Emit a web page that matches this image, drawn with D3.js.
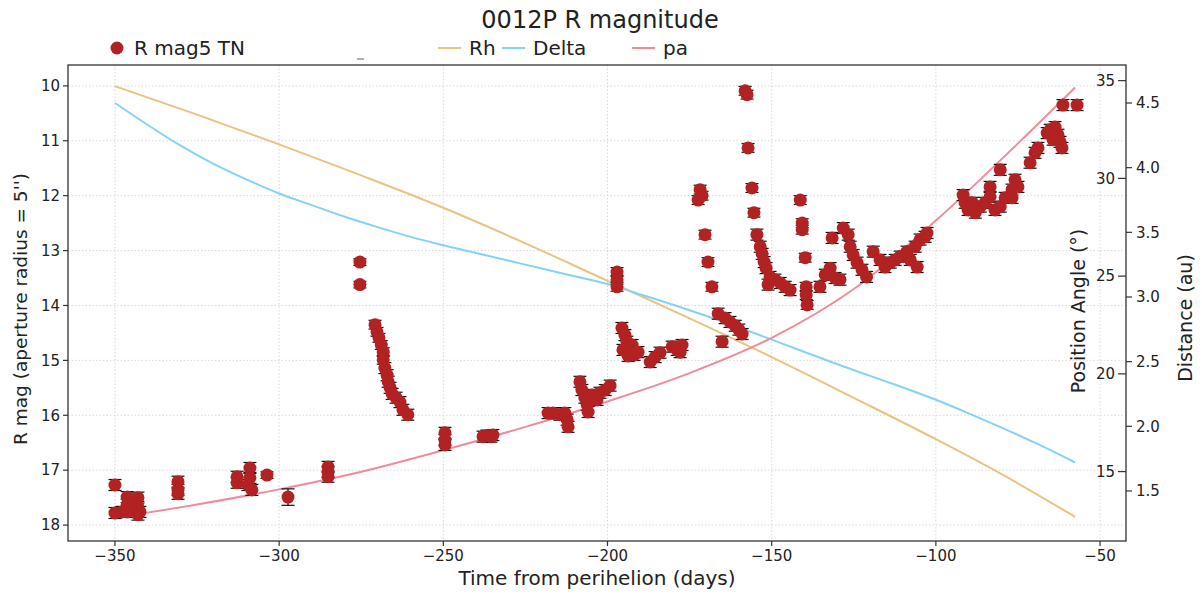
<!DOCTYPE html>
<html><head><meta charset="utf-8">
<script src="https://cdn.jsdelivr.net/npm/d3@7"></script>
<style>
body{margin:0;background:#fff}
text{font-family:"DejaVu Sans",sans-serif;fill:#222}
</style>
</head><body><svg id="c" width="1202" height="595"></svg>
<script>
// ---------------- data ----------------
const chartTitle = "0012P R magnitude";
const xTicks = [-350,-300,-250,-200,-150,-100,-50];
const magTicks = [10,11,12,13,14,15,16,17,18];
const paTicks = [15,20,25,30,35];
const distTicks = [1.5,2.0,2.5,3.0,3.5,4.0,4.5];
const legendLabels = ["R mag5 TN","Rh","Delta","pa"];

// observations: [days from perihelion, R mag, error]
const rMag5TN = [
[-350.0,17.27,0.1],[-350.0,17.78,0.1],[-347.9,17.76,0.1],[-346.3,17.49,0.1],[-346.3,17.63,0.1],[-346.3,17.76,0.1],
[-344.5,17.54,0.1],[-343.0,17.50,0.1],[-343.0,17.67,0.1],[-343.0,17.81,0.1],[-342.4,17.76,0.1],
[-330.8,17.21,0.1],[-330.8,17.36,0.1],[-330.8,17.43,0.1],
[-312.8,17.12,0.1],[-312.8,17.23,0.1],[-308.9,16.96,0.1],[-308.9,17.14,0.1],[-309.5,17.27,0.1],[-308.3,17.36,0.1],
[-303.7,17.09,0.06],[-297.3,17.49,0.15],
[-285.1,16.94,0.1],[-285.1,17.03,0.1],[-285.1,17.12,0.1],
[-275.4,13.21,0.06],[-275.4,13.62,0.06],
[-270.8,14.35,0.08],[-270.2,14.48,0.08],[-269.6,14.59,0.08],[-268.9,14.72,0.08],[-268.3,14.85,0.08],[-268.3,14.99,0.08],
[-267.8,15.14,0.1],[-267.1,15.27,0.1],[-266.8,15.39,0.1],[-266.2,15.50,0.1],[-265.6,15.61,0.1],[-264.4,15.68,0.1],
[-263.2,15.76,0.1],[-262.3,15.90,0.1],[-260.8,15.99,0.1],
[-249.5,16.32,0.1],[-249.5,16.45,0.1],[-249.5,16.54,0.1],
[-237.9,16.39,0.1],[-236.7,16.37,0.1],[-235.5,16.39,0.1],[-234.9,16.36,0.1],
[-218.1,15.96,0.1],[-216.6,15.96,0.1],[-214.5,15.99,0.1],[-213.0,15.96,0.1],[-212.3,16.08,0.1],[-212.0,16.21,0.1],
[-208.4,15.39,0.1],[-207.8,15.54,0.1],[-206.9,15.68,0.1],[-206.2,15.81,0.1],[-205.9,15.94,0.1],[-204.7,15.63,0.1],
[-203.2,15.72,0.1],[-202.3,15.59,0.1],[-200.7,15.54,0.1],[-199.2,15.46,0.1],
[-197.1,13.39,0.08],[-197.1,13.53,0.08],[-197.1,13.66,0.08],
[-195.6,14.41,0.1],[-194.7,14.54,0.1],[-194.1,14.66,0.1],[-195.3,14.81,0.1],[-192.5,14.72,0.1],[-191.9,14.90,0.1],
[-193.7,14.92,0.1],[-190.7,14.85,0.1],[-185.5,14.94,0.1],[-187.0,15.03,0.1],[-184.0,14.86,0.1],
[-180.3,14.75,0.1],[-178.8,14.81,0.1],[-177.3,14.72,0.1],[-177.9,14.85,0.1],
[-171.8,11.89,0.08],[-171.2,12.00,0.08],[-172.4,12.08,0.08],[-170.3,12.71,0.08],[-169.4,13.21,0.08],[-168.2,13.66,0.08],
[-166.3,14.15,0.1],[-164.2,14.23,0.1],[-162.7,14.30,0.1],[-161.1,14.37,0.1],[-160.0,14.44,0.1],[-159.0,14.52,0.1],
[-165.1,14.66,0.1],
[-158.1,10.09,0.08],[-157.5,10.16,0.08],[-157.2,11.13,0.08],[-156.0,11.86,0.08],[-155.4,12.31,0.08],[-154.5,12.71,0.1],
[-153.5,12.93,0.1],[-152.9,13.06,0.1],[-152.3,13.21,0.1],[-151.7,13.32,0.1],[-150.5,13.48,0.1],[-151.1,13.62,0.1],
[-149.0,13.53,0.1],[-147.4,13.59,0.1],[-145.9,13.66,0.1],[-144.4,13.72,0.1],
[-141.3,12.08,0.08],[-140.7,12.50,0.08],[-140.7,12.62,0.08],[-139.8,13.13,0.08],[-139.5,13.66,0.08],[-139.5,13.81,0.08],
[-139.2,13.99,0.08],[-135.3,13.66,0.1],[-133.7,13.44,0.1],[-132.2,13.32,0.1],[-130.7,13.50,0.1],[-129.2,13.53,0.1],
[-131.6,12.77,0.1],[-128.2,12.59,0.1],[-126.7,12.71,0.1],[-126.1,12.93,0.1],[-125.2,13.08,0.1],[-124.0,13.22,0.1],
[-122.5,13.35,0.1],[-121.1,13.48,0.1],[-119.1,13.02,0.1],[-117.0,13.17,0.1],[-115.5,13.30,0.1],[-113.9,13.22,0.1],
[-112.4,13.17,0.1],[-110.9,13.11,0.1],[-108.8,13.02,0.1],[-107.8,13.17,0.1],[-106.3,12.93,0.1],[-104.8,12.80,0.1],
[-103.3,12.75,0.1],[-105.7,13.30,0.1],[-102.7,12.68,0.1],
[-91.7,11.99,0.1],[-91.1,12.13,0.1],[-90.2,12.26,0.1],[-88.9,12.13,0.1],[-88.0,12.31,0.1],[-86.5,12.20,0.1],
[-85.0,12.13,0.1],[-83.5,11.84,0.1],[-83.5,12.02,0.1],[-82.0,12.26,0.1],[-80.4,12.20,0.1],[-80.4,11.53,0.1],
[-78.9,12.04,0.1],[-76.8,11.89,0.1],[-75.9,11.71,0.1],[-75.0,11.84,0.1],[-76.8,12.04,0.1],
[-71.3,11.40,0.1],[-69.8,11.22,0.1],[-68.9,11.13,0.1],
[-66.1,10.86,0.1],[-65.2,10.80,0.1],[-63.7,10.75,0.1],[-62.8,10.89,0.1],[-62.2,11.02,0.1],[-61.6,11.13,0.1],[-64.3,10.98,0.1],
[-61.3,10.35,0.1],[-57.0,10.35,0.1]
];

// ephemeris: heliocentric distance Rh (au)
const rhDays = [-350,-325,-300,-275,-250,-225,-200,-175,-150,-125,-100,-80,-57.6];
const rhVals = [4.63,4.41,4.18,3.94,3.69,3.415,3.125,2.835,2.535,2.22,1.90,1.63,1.30];
// geocentric distance Delta (au)
const deltaDays = [-350,-340,-330,-320,-310,-300,-290,-280,-270,-260,-250,-240,-230,-220,-210,-200,-190,-180,-170,-160,-150,-140,-130,-120,-110,-100,-90,-80,-70,-57.6];
const deltaVals = [4.50,4.33,4.17,4.03,3.91,3.80,3.71,3.62,3.54,3.465,3.40,3.34,3.28,3.22,3.16,3.10,3.02,2.94,2.855,2.765,2.67,2.575,2.48,2.39,2.30,2.205,2.10,1.99,1.875,1.72];
// position angle (deg)
const paDays = [-350,-325,-300,-275,-250,-225,-200,-175,-150,-125,-100,-75,-57.6];
const paVals = [12.64,13.32,14.09,14.99,16.09,17.29,18.59,20.04,21.84,24.34,27.84,31.79,34.65];

// ---------------- layout ----------------
const L = 68, R = 1126, T = 65, B = 541;
const svg = d3.select("#c");
const x = d3.scaleLinear().domain([-364.3,-42.1]).range([L,R]);
const yMag = d3.scaleLinear().domain([9.62,18.29]).range([T,B]);
const yPA = d3.scaleLinear().domain([11.45,35.8]).range([B,T]);
const yDist = d3.scaleLinear().domain([1.113,4.794]).range([B,T]);

const colPts = "#b22222", colRh = "#e8c383", colDelta = "#84d2f6", colPa = "#ef8b9b";

// grid
const grid = svg.append("g").attr("stroke","#d4d4d4").attr("stroke-width",0.9).attr("stroke-dasharray","1.5,2");
xTicks.forEach(t=>grid.append("line").attr("x1",x(t)).attr("x2",x(t)).attr("y1",T).attr("y2",B));
magTicks.forEach(t=>grid.append("line").attr("x1",L).attr("x2",R).attr("y1",yMag(t)).attr("y2",yMag(t)));

// lines
const lineGen = (ys)=>d3.line().x(d=>x(d[0])).y(d=>ys(d[1])).curve(d3.curveMonotoneX);
svg.append("path").datum(d3.zip(rhDays,rhVals)).attr("d",lineGen(yDist)).attr("fill","none").attr("stroke",colRh).attr("stroke-width",2);
svg.append("path").datum(d3.zip(deltaDays,deltaVals)).attr("d",lineGen(yDist)).attr("fill","none").attr("stroke",colDelta).attr("stroke-width",2);
svg.append("path").datum(d3.zip(paDays,paVals)).attr("d",lineGen(yPA)).attr("fill","none").attr("stroke",colPa).attr("stroke-width",2);

// error bars
const eb = svg.append("g").attr("stroke","#111").attr("stroke-width",1.2);
rMag5TN.forEach(d=>{
  const cx=x(d[0]), y1=yMag(d[1]-d[2]), y2=yMag(d[1]+d[2]);
  eb.append("line").attr("x1",cx).attr("x2",cx).attr("y1",y1).attr("y2",y2);
  eb.append("line").attr("x1",cx-6.5).attr("x2",cx+6.5).attr("y1",y1).attr("y2",y1);
  eb.append("line").attr("x1",cx-6.5).attr("x2",cx+6.5).attr("y1",y2).attr("y2",y2);
});
// points
svg.append("g").selectAll("circle").data(rMag5TN).join("circle")
  .attr("cx",d=>x(d[0])).attr("cy",d=>yMag(d[1])).attr("r",6.5).attr("fill",colPts);

// frame
svg.append("rect").attr("x",L).attr("y",T).attr("width",R-L).attr("height",B-T)
  .attr("fill","none").attr("stroke","#333").attr("stroke-width",1.3);

// axes
const fs = 15;
const ax = svg.append("g").attr("stroke","#333").attr("stroke-width",1.2);
xTicks.forEach(t=>{
  ax.append("line").attr("x1",x(t)).attr("x2",x(t)).attr("y1",B).attr("y2",B+5);
  svg.append("text").attr("x",x(t)).attr("y",B+20).attr("text-anchor","middle").attr("font-size",fs).text(d3.format("d")(t));
});
magTicks.forEach(t=>{
  ax.append("line").attr("x1",L-5).attr("x2",L).attr("y1",yMag(t)).attr("y2",yMag(t));
  svg.append("text").attr("x",L-8).attr("y",yMag(t)).attr("dy","0.35em").attr("text-anchor","end").attr("font-size",fs).text(t);
});
paTicks.forEach(t=>{
  ax.append("line").attr("x1",R-8).attr("x2",R).attr("y1",yPA(t)).attr("y2",yPA(t));
  svg.append("text").attr("x",R-11).attr("y",yPA(t)).attr("dy","0.35em").attr("text-anchor","end").attr("font-size",fs).text(t);
});
distTicks.forEach(t=>{
  ax.append("line").attr("x1",R).attr("x2",R+6).attr("y1",yDist(t)).attr("y2",yDist(t));
  svg.append("text").attr("x",R+10).attr("y",yDist(t)).attr("dy","0.35em").attr("text-anchor","start").attr("font-size",fs).text(d3.format(".1f")(t));
});

// labels
svg.append("text").attr("x",600).attr("y",28).attr("text-anchor","middle").attr("font-size",24).text(chartTitle);
svg.append("text").attr("x",597).attr("y",585).attr("text-anchor","middle").attr("font-size",20).text("Time from perihelion (days)");
svg.append("text").attr("transform","translate(27,309) rotate(-90)").attr("text-anchor","middle").attr("font-size",18.5).text("R mag (aperture radius = 5'')");
svg.append("text").attr("transform","translate(1085,311) rotate(-90)").attr("text-anchor","middle").attr("font-size",19).text("Position Angle (°)");
svg.append("text").attr("transform","translate(1192,318) rotate(-90)").attr("text-anchor","middle").attr("font-size",19).text("Distance (au)");

// legend
const ly = 48;
svg.append("circle").attr("cx",117).attr("cy",ly).attr("r",6.5).attr("fill",colPts);
svg.append("text").attr("x",134).attr("y",ly).attr("dy","0.35em").attr("font-size",20).text(legendLabels[0]);
svg.append("line").attr("x1",357).attr("x2",364).attr("y1",ly+11).attr("y2",ly+11).attr("stroke","#666").attr("stroke-width",1);
const lineLeg = [[438,colRh,legendLabels[1]],[502,colDelta,legendLabels[2]],[632,colPa,legendLabels[3]]];
lineLeg.forEach(([lx,c,lab])=>{
  svg.append("line").attr("x1",lx).attr("x2",lx+23).attr("y1",ly).attr("y2",ly).attr("stroke",c).attr("stroke-width",2);
  svg.append("text").attr("x",lx+31).attr("y",ly).attr("dy","0.35em").attr("font-size",20).text(lab);
});
</script>
</body></html>
